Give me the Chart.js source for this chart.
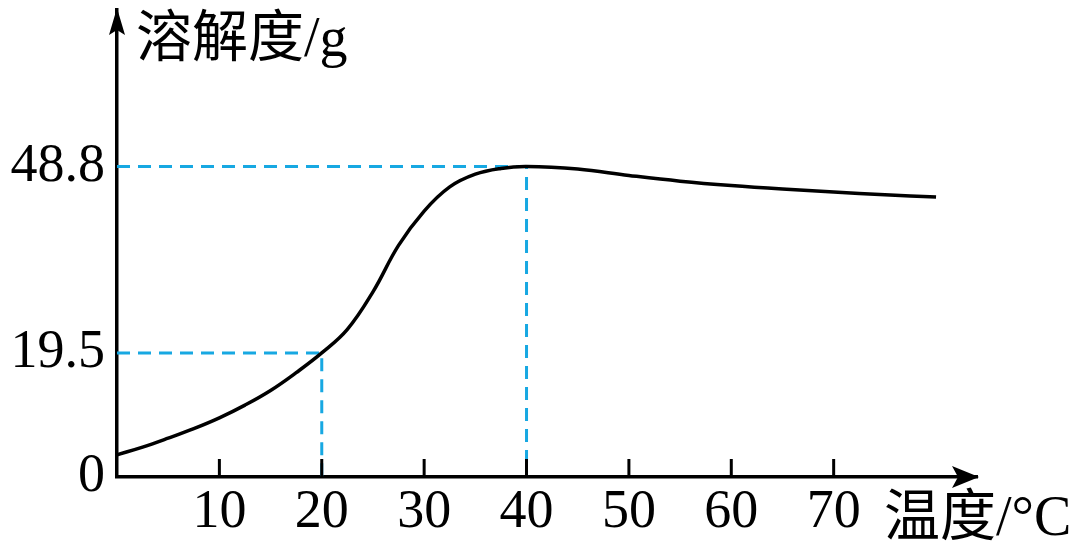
<!DOCTYPE html>
<html>
<head>
<meta charset="utf-8">
<script src="https://cdn.jsdelivr.net/npm/chart.js@4/dist/chart.umd.min.js"></script>
<style>
  html, body { margin: 0; padding: 0; background: #ffffff; }
  canvas { display: block; }
</style>
</head>
<body>
<canvas id="c" width="1080" height="549"></canvas>
<script>
// ---- data ----
const temps      = [0, 2.5, 5, 7.5, 10, 12.5, 15, 17.5, 20, 22.5, 25, 27.5, 30, 32.5, 35, 37.5, 40, 45, 50, 55, 60, 65, 70, 75, 80];
const solubility = [3.5, 4.7, 6.1, 7.6, 9.3, 11.3, 13.6, 16.4, 19.5, 23.2, 29.1, 36.4, 41.8, 45.6, 47.6, 48.5, 48.8, 48.4, 47.4, 46.5, 45.8, 45.25, 44.8, 44.35, 44.0];
const xTickValues = [10, 20, 30, 40, 50, 60, 70];
const yTickValues = [0, 19.5, 48.8];
const refTemps  = [20, 40];
const refValues = [19.5, 48.8];
const yTitle = '溶解度/g';
const xTitle = '温度/°C';

const NUM_FONT = '"Liberation Serif", "Times New Roman", serif';
const CJK_FONT = '"Liberation Serif", "Noto Sans CJK SC", serif';
const DASH_COLOR = '#17a8e2';

const curvePoints = temps.map((t, i) => ({ x: t, y: solubility[i] }));
const refDatasets = refTemps.map((t, i) => ({
  data: [{ x: 0, y: refValues[i] }, { x: t, y: refValues[i] }, { x: t, y: 0 }],
  borderColor: DASH_COLOR,
  borderWidth: 3,
  borderDash: [13, 8],
  pointRadius: 0,
  tension: 0,
  fill: false,
  order: 2
}));

const axisDecor = {
  id: 'axisDecor',
  afterDraw(chart) {
    const ctx = chart.ctx;
    const xs = chart.scales.x, ys = chart.scales.y;
    const area = chart.chartArea;
    const x0 = xs.getPixelForValue(0);
    const y0 = ys.getPixelForValue(0);
    ctx.save();
    ctx.fillStyle = '#000';
    ctx.strokeStyle = '#000';
    // x ticks drawn upward
    ctx.lineWidth = 3;
    xTickValues.forEach(v => {
      const px = xs.getPixelForValue(v);
      ctx.beginPath();
      ctx.moveTo(px, y0);
      ctx.lineTo(px, y0 - 18);
      ctx.stroke();
    });
    // y arrow
    const yTop = area.top;
    ctx.beginPath();
    ctx.moveTo(x0, yTop - 2);
    ctx.lineTo(x0 - 8, yTop + 25);
    ctx.lineTo(x0, yTop + 20);
    ctx.lineTo(x0 + 8, yTop + 25);
    ctx.closePath();
    ctx.fill();
    // x arrow
    const xEnd = area.right;
    ctx.beginPath();
    ctx.moveTo(xEnd + 2, y0);
    ctx.lineTo(xEnd - 25, y0 - 11);
    ctx.lineTo(xEnd - 19, y0);
    ctx.lineTo(xEnd - 25, y0 + 11);
    ctx.closePath();
    ctx.fill();
    // titles
    ctx.textBaseline = 'alphabetic';
    ctx.textAlign = 'left';
    ctx.font = '56px ' + CJK_FONT;
    ctx.fillText(yTitle, x0 + 19, 56);
    ctx.fillText(xTitle, 884, 535);
    ctx.restore();
  }
};

new Chart(document.getElementById('c'), {
  type: 'line',
  data: {
    datasets: [
      {
        data: curvePoints,
        borderColor: '#000',
        borderWidth: 3.5,
        pointRadius: 0,
        tension: 0.4,
        fill: false,
        order: 1
      },
      ...refDatasets
    ]
  },
  options: {
    responsive: false,
    devicePixelRatio: 1,
    animation: false,
    events: [],
    layout: { padding: { top: 10, right: 103, left: 0, bottom: 0 } },
    plugins: { legend: { display: false }, tooltip: { enabled: false } },
    scales: {
      x: {
        type: 'linear',
        min: 0,
        max: 84,
        grid: { display: false, drawTicks: false },
        border: { display: true, color: '#000', width: 3.5 },
        afterBuildTicks(scale) { scale.ticks = xTickValues.map(v => ({ value: v })); },
        afterFit(scale) { scale.height = 72; scale.paddingLeft = 0; scale.paddingRight = 0; },
        ticks: {
          color: '#000',
          padding: 3,
          maxRotation: 0,
          autoSkip: false,
          font: { family: NUM_FONT, size: 54 },
          callback: v => String(v)
        }
      },
      y: {
        type: 'linear',
        min: 0,
        max: 73.4,
        grid: { display: false, drawTicks: false },
        border: { display: true, color: '#000', width: 3.5 },
        afterBuildTicks(scale) { scale.ticks = yTickValues.map(v => ({ value: v })); },
        afterFit(scale) { scale.width = 117; scale.paddingTop = 0; scale.paddingBottom = 0; },
        ticks: {
          color: '#000',
          padding: 12,
          autoSkip: false,
          font: { family: NUM_FONT, size: 54 },
          callback: v => String(v)
        }
      }
    }
  },
  plugins: [axisDecor]
});
</script>
</body>
</html>
